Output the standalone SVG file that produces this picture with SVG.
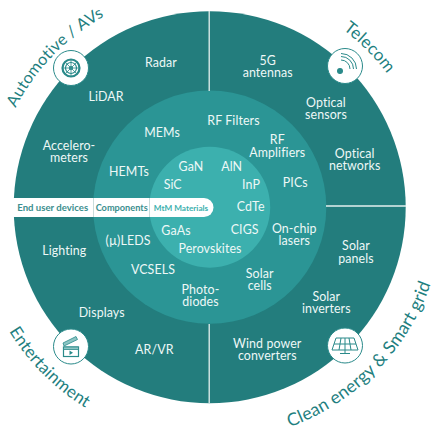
<svg xmlns="http://www.w3.org/2000/svg" width="433" height="430" viewBox="0 0 433 430">
<style>
text{font-family:Lato,"Open Sans","Liberation Sans",sans-serif}
.l{font-size:12.4px;fill:#eef8f7;text-anchor:middle;font-weight:400;letter-spacing:.1px}
.b{font-weight:700;text-anchor:middle;fill:#3b8e8e}
.c{font-size:17px;fill:#1f7f7f;text-anchor:middle;font-weight:400;letter-spacing:.2px}
.d{stroke:#e4efee;stroke-width:1.3;fill:none}
.ic{fill:none;stroke:#2a8a8a;stroke-width:1.2}
.ring{fill:#fff;stroke:#2a8a8a;stroke-width:1}
</style>
<defs>
<path id="pa" d="M-8.300 207.200A218 218 0 0 1 209.700 -10.800"/>
<path id="pt" d="M209.700 -14.800A222 222 0 0 1 431.700 207.200"/>
<path id="pe" d="M-26.300 207.200A236 236 0 0 0 209.700 443.200"/>
<path id="pc" d="M209.700 441.200A234 234 0 0 0 443.700 207.200"/>
</defs>
<rect width="433" height="430" fill="#fff"/>
<g id="rings">
<circle cx="209.700" cy="207.200" r="196" fill="#237d7d"/>
<circle cx="209.700" cy="207.200" r="116.600" fill="#2b9595"/>
<circle cx="209.700" cy="207.200" r="60.500" fill="#3cb0ae"/>
</g>
<g id="connectors">
<path class="d" d="M209.200 11V91M209.200 324V403M326 206H406"/>
</g>
<g id="band">
<path d="M0 198H204a9.500 9.500 0 0 1 0 19H0Z" fill="#fff"/>
<path d="M93.500 198V217M149.500 198V217" stroke="#c9dcdb" stroke-width="1"/>
<text class="b" x="52.700" y="210.800" font-size="9.600">End user devices</text>
<text class="b" x="121.700" y="210.800" font-size="9.200">Components</text>
<text class="b" x="181" y="210.600" font-size="8.200" style="fill:#3cb0ae">MtM Materials</text>
</g>
<g id="automotive">
<text class="c" style="font-size:16.300px"><textPath href="#pa" startOffset="49%">Automotive / AVs</textPath></text>
<circle class="ring" cx="71" cy="68" r="17.500"/>
<g class="ic"><circle cx="71" cy="68" r="8.500" stroke-width="2.200"/><circle cx="71" cy="68" r="5.500"/><circle cx="71" cy="68" r="1.500"/><path d="M71 60V76M63 68H79M65.300 62.300L76.700 73.700M76.700 62.300L65.300 73.700" stroke-width=".8"/></g>
<text class="l" x="161" y="66.700">Radar</text>
<text class="l" x="106" y="100.700">LiDAR</text>
<text class="l" x="69" y="150">Accelero-</text>
<text class="l" x="69" y="162.300">meters</text>
</g>
<g id="telecom">
<text class="c"><textPath href="#pt" startOffset="50%">Telecom</textPath></text>
<circle class="ring" cx="345" cy="66" r="17.500"/>
<g class="ic"><path d="M341 60A9 9 0 0 1 350 69M341 56.500A12.500 12.500 0 0 1 353.500 69M341 53.500A15.500 15.500 0 0 1 356.500 69" stroke-width="1"/><circle cx="340" cy="71" r="2.400" fill="#2a8a8a"/></g>
<text class="l" x="267.700" y="64.700">5G</text>
<text class="l" x="267.700" y="77">antennas</text>
<text class="l" x="326" y="107">Optical</text>
<text class="l" x="326" y="119.300">sensors</text>
<text class="l" x="354.700" y="158">Optical</text>
<text class="l" x="354.700" y="170.300">networks</text>
</g>
<g id="energy">
<text class="c" style="font-size:17.700px"><textPath href="#pc" startOffset="50.500%">Clean energy &amp; Smart grid</textPath></text>
<circle class="ring" cx="345" cy="345.500" r="17.500"/>
<g class="ic"><path d="M336 338H354L358 350H332ZM334 344H356M341 338L339 350M349 338L351 350M345 338V350M345 350V353M340 353.500H350" stroke-width="1"/></g>
<text class="l" x="356" y="250.300">Solar</text>
<text class="l" x="356" y="262.800">panels</text>
<text class="l" x="326.300" y="301">Solar</text>
<text class="l" x="326.300" y="313.300">inverters</text>
<text class="l" x="267.300" y="347.700">Wind power</text>
<text class="l" x="267.300" y="360">converters</text>
</g>
<g id="entertainment">
<text class="c"><textPath href="#pe" startOffset="50%">Entertainment</textPath></text>
<circle class="ring" cx="71" cy="346.500" r="17.500"/>
<g class="ic"><rect x="63.500" y="347" width="15" height="9.500"/><path d="M63 343L76 336.500L77.500 339.500L64 346Z" fill="#8cc5c4" stroke-width=".8"/><path d="M63.500 347H78.500V349.500H63.500Z" fill="#8cc5c4" stroke-width=".8"/><path d="M69.500 350.500V355L73 352.700Z" fill="#2a8a8a" stroke="none"/></g>
<text class="l" x="64.300" y="255">Lighting</text>
<text class="l" x="101.700" y="316.700">Displays</text>
<text class="l" x="154.300" y="353.700">AR/VR</text>
</g>
<g id="components">
<text class="l" x="162" y="137">MEMs</text>
<text class="l" x="129" y="176">HEMTs</text>
<text class="l" x="233.500" y="124.700">RF Filters</text>
<text class="l" x="277.300" y="144">RF</text>
<text class="l" x="277.300" y="157">Amplifiers</text>
<text class="l" x="295.300" y="187">PICs</text>
<text class="l" x="294.300" y="232.700">On-chip</text>
<text class="l" x="294.300" y="245">lasers</text>
<text class="l" x="259.700" y="278">Solar</text>
<text class="l" x="259.700" y="290.300">cells</text>
<text class="l" x="200.500" y="293.700">Photo-</text>
<text class="l" x="200.500" y="306">diodes</text>
<text class="l" x="153" y="274">VCSELS</text>
<text class="l" x="128" y="245">(µ)LEDS</text>
</g>
<g id="materials">
<text class="l" x="191" y="170.700">GaN</text>
<text class="l" x="231.700" y="170.700">AlN</text>
<text class="l" x="172.700" y="188.700">SiC</text>
<text class="l" x="251" y="188.700">InP</text>
<text class="l" x="250.700" y="211">CdTe</text>
<text class="l" x="244.700" y="234.300">CIGS</text>
<text class="l" x="176" y="234.700">GaAs</text>
<text class="l" x="210" y="253.300">Perovskites</text>
</g>
</svg>
